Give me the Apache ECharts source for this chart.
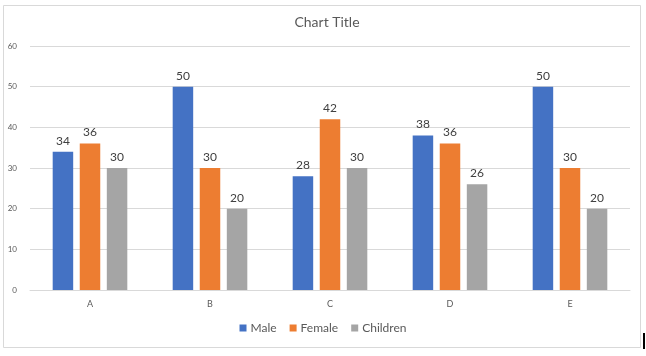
<!DOCTYPE html>
<html>
<head>
<meta charset="utf-8">
<script src="https://cdn.jsdelivr.net/npm/echarts@6/dist/echarts.min.js"></script>
<style>html,body{margin:0;padding:0;background:#fff;}#c{width:646px;height:356px;}</style>
</head>
<body>
<div id="c"></div>
<script>
var categories = ['A', 'B', 'C', 'D', 'E'];
var male = [34, 50, 28, 38, 50];
var female = [36, 30, 42, 36, 30];
var children = [30, 20, 30, 26, 20];
var yTicks = [0, 10, 20, 30, 40, 50, 60];

var FONT = 'Lato, "Open Sans", sans-serif';
var chart = echarts.init(document.getElementById('c'), null, {renderer: 'canvas'});
var label = {show: true, position: 'top', distance: 5, color: '#404040', fontSize: 12, fontFamily: FONT};
function ser(name, data, color) {
  return {name: name, type: 'bar', data: data, barWidth: 20.5, barGap: '32%',
    itemStyle: {color: color}, label: label, animation: false};
}
chart.setOption({
  animation: false,
  backgroundColor: '#fff',
  title: {text: 'Chart Title', left: 322, top: 10, textAlign: 'center',
    textStyle: {color: '#595959', fontSize: 14, fontWeight: 'normal', fontFamily: FONT}},
  legend: {bottom: 17, left: 'center', itemWidth: 7, itemHeight: 7, itemGap: 13,
    icon: 'rect', textStyle: {color: '#595959', fontSize: 12, fontFamily: FONT, padding: [0,0,0,-1]},
    data: ['Male', 'Female', 'Children']},
  grid: {left: 30, right: 16, top: 46, bottom: 66, containLabel: false},
  xAxis: {type: 'category', data: categories,
    axisLine: {lineStyle: {color: '#d9d9d9'}}, axisTick: {show: false},
    axisLabel: {color: '#595959', fontSize: 9, fontFamily: FONT, margin: 10}},
  yAxis: {type: 'value', min: yTicks[0], max: yTicks[yTicks.length - 1], interval: 10,
    axisLine: {show: false}, axisTick: {show: false},
    splitLine: {lineStyle: {color: '#d9d9d9'}},
    axisLabel: {color: '#595959', fontSize: 8, fontFamily: FONT, margin: 13}},
  series: [ser('Male', male, '#4472C4'), ser('Female', female, '#ED7D31'), ser('Children', children, '#A5A5A5')],
  graphic: [
    {type: 'rect', shape: {x: 3.5, y: 5.5, width: 637, height: 342}, silent: true, z: -10,
      style: {fill: 'none', stroke: '#d9d9d9', lineWidth: 1}},
    {type: 'rect', shape: {x: 643, y: 333, width: 2, height: 16}, silent: true,
      style: {fill: '#000'}}
  ]
});
</script>
</body>
</html>
